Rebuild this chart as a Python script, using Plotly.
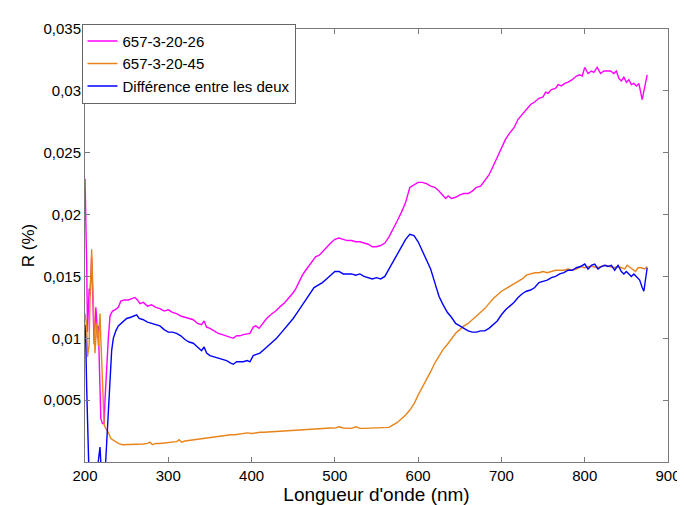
import plotly.graph_objects as go

# ---- data ----
x_a = [200, 201, 202, 203, 204, 205, 206, 207, 208, 209, 210, 211, 212, 213, 214, 215, 216, 217, 218, 219,
       221, 223, 224, 226, 228, 230, 233, 236, 240, 243, 247, 252, 256, 260, 263, 266, 270, 275, 280, 285,
       290, 295, 300, 305, 310, 315, 320, 325, 330, 335, 340, 343, 346, 350, 355, 360, 365, 370, 375, 378,
       382, 386, 390, 395, 398, 402, 405, 409, 413, 418, 423, 429, 435, 440, 445, 449, 453, 457, 461, 465,
       470, 474, 477, 481, 485, 490, 495, 500, 505, 510, 515, 520, 525, 530, 535, 540, 545, 550, 555, 560,
       565, 570, 575, 580, 585, 590, 595, 600, 605, 610, 615, 620, 625, 630, 633, 636, 640, 645, 650, 655,
       660, 665, 670, 675, 680, 685, 690, 695, 700, 705, 710, 715, 720, 725, 730, 735, 740, 745, 750, 753,
       756, 760, 765, 768, 772, 776, 780, 785, 790, 794, 797, 800, 804, 808, 811, 815, 819, 823, 827, 831,
       835, 838, 841, 844, 847, 850, 853, 856, 859, 862, 865, 869, 872, 875]
r_a = [0.0229, 0.0200, 0.0160, 0.0105, 0.0120, 0.0140, 0.0135, 0.0155, 0.0165, 0.0140, 0.0110, 0.0095, 0.0110,
       0.0125, 0.0115, 0.0100, 0.0110, 0.0085, 0.0055, 0.0035, 0.0031, 0.0031, 0.0050, 0.0080, 0.0100, 0.0118,
       0.0122, 0.0123, 0.0125, 0.0130, 0.0131, 0.0131, 0.0132, 0.0133, 0.0131, 0.0128, 0.0129, 0.0126, 0.0127,
       0.0125, 0.0124, 0.0122, 0.0123, 0.0121, 0.0120, 0.0118, 0.0117, 0.0116, 0.0115, 0.0112, 0.0111, 0.0114,
       0.0109, 0.0108, 0.0106, 0.0104, 0.0103, 0.0102, 0.0101, 0.0100, 0.0102, 0.0102, 0.0103, 0.0104, 0.0104,
       0.0109, 0.0110, 0.0108, 0.0112, 0.0116, 0.0119, 0.0122, 0.0126, 0.0129, 0.0133, 0.0136, 0.0140, 0.0146,
       0.0151, 0.0155, 0.0160, 0.0164, 0.0166, 0.0167, 0.0170, 0.0174, 0.0177, 0.0180, 0.0181, 0.0180, 0.0179,
       0.0179, 0.0178, 0.0178, 0.0177, 0.0176, 0.0174, 0.0174, 0.0175, 0.0177, 0.0182, 0.0188, 0.0195, 0.0202,
       0.0210, 0.0222, 0.0224, 0.0226, 0.0226, 0.0225, 0.0223, 0.0222, 0.0219, 0.0215, 0.0213, 0.0215, 0.0213,
       0.0214, 0.0216, 0.0217, 0.0217, 0.0219, 0.0222, 0.0223, 0.0228, 0.0232, 0.0239, 0.0246, 0.0253, 0.0261,
       0.0266, 0.0270, 0.0277, 0.0281, 0.0285, 0.0289, 0.0291, 0.0294, 0.0295, 0.0299, 0.0298, 0.0301, 0.0302,
       0.0305, 0.0304, 0.0306, 0.0307, 0.0309, 0.0312, 0.0313, 0.0312, 0.0319, 0.0314, 0.0316, 0.0315, 0.0319,
       0.0314, 0.0316, 0.0316, 0.0316, 0.0314, 0.0316, 0.0310, 0.0308, 0.0311, 0.0307, 0.0309, 0.0305, 0.0306,
       0.0304, 0.0306, 0.0293, 0.0303, 0.0313]

x_b = [200, 202, 203, 205, 206, 207, 208, 209, 210, 211, 212, 213, 214, 215, 216, 217, 218, 219, 220, 221,
       222, 223, 225, 228, 231, 235, 240, 245, 250, 255, 260, 265, 270, 275, 278, 281, 285, 290, 295, 300,
       305, 310, 313, 316, 320, 325, 330, 335, 340, 345, 350, 355, 360, 365, 370, 375, 380, 385, 390, 395,
       400, 405, 410, 415, 420, 425, 430, 435, 440, 445, 450, 455, 460, 465, 470, 475, 480, 485, 490, 495,
       500, 505, 510, 515, 520, 525, 530, 535, 540, 545, 550, 555, 560, 565, 570, 575, 580, 585, 590, 595,
       600, 605, 610, 615, 620, 625, 630, 635, 640, 645, 650, 655, 660, 665, 670, 675, 680, 685, 690, 695,
       700, 705, 710, 715, 720, 725, 730, 735, 740, 745, 750, 755, 760, 765, 770, 775, 780, 785, 790, 795,
       800, 805, 810, 815, 820, 825, 830, 835, 840, 845, 848, 851, 855, 858, 861, 864, 868, 872, 875]
r_b = [0.0120, 0.0110, 0.0085, 0.0095, 0.0130, 0.0160, 0.0172, 0.0150, 0.0130, 0.0115, 0.0088, 0.0100, 0.0112,
       0.0105, 0.0094, 0.0108, 0.0120, 0.0100, 0.0083, 0.0060, 0.0042, 0.0030, 0.0027, 0.0024, 0.0019, 0.0017,
       0.0015, 0.0014, 0.0014, 0.0014, 0.00145, 0.0014, 0.00145, 0.0015, 0.0016, 0.0014, 0.0015, 0.0015, 0.00155,
       0.0016, 0.0016, 0.00165, 0.0018, 0.0016, 0.0017, 0.00175, 0.0018, 0.00185, 0.0019, 0.0019, 0.00195,
       0.0020, 0.0021, 0.0021, 0.00215, 0.0022, 0.0022, 0.00225, 0.0023, 0.00235, 0.0023, 0.00238, 0.0024,
       0.0024, 0.00242, 0.00245, 0.00248, 0.0025, 0.0025, 0.00255, 0.0026, 0.0026, 0.0026, 0.00265, 0.00268,
       0.0027, 0.0027, 0.0027, 0.00272, 0.00275, 0.00274, 0.00285, 0.00275, 0.00275, 0.00272, 0.00285, 0.00272,
       0.00272, 0.00273, 0.00272, 0.00273, 0.00273, 0.00273, 0.0028, 0.0030, 0.0032, 0.0035, 0.0038, 0.0042,
       0.0047, 0.0054, 0.0060, 0.0066, 0.0073, 0.0080, 0.0086, 0.0091, 0.0095, 0.0100, 0.0104, 0.0107, 0.0110,
       0.0112, 0.0115, 0.0118, 0.0121, 0.0124, 0.0128, 0.0132, 0.0135, 0.0138, 0.0140, 0.0142, 0.0144, 0.0146,
       0.0148, 0.0151, 0.0152, 0.0153, 0.0153, 0.0154, 0.0153, 0.0154, 0.0155, 0.0155, 0.0155, 0.0156, 0.0155,
       0.0156, 0.0158, 0.0157, 0.0158, 0.0158, 0.0157, 0.0158, 0.0159, 0.0158, 0.0157, 0.0158, 0.0157, 0.0156,
       0.0159, 0.0157, 0.0156, 0.0154, 0.0157, 0.0157, 0.0156, 0.0158]

x_d = [200, 201, 202, 203, 204, 206, 210, 213, 215, 217, 218, 219, 220, 222, 224, 226, 228, 230, 232, 234,
       237, 240, 245, 250, 255, 258, 262, 265, 270, 275, 280, 285, 290, 295, 300, 305, 310, 315, 320, 325,
       330, 335, 340, 343, 346, 350, 355, 360, 365, 370, 375, 378, 382, 386, 390, 395, 398, 402, 405, 410,
       415, 420, 425, 430, 435, 440, 445, 450, 455, 460, 465, 470, 475, 480, 485, 490, 495, 500, 505, 510,
       515, 520, 525, 530, 535, 540, 545, 550, 555, 560, 565, 570, 575, 580, 585, 590, 595, 600, 605, 610,
       615, 620, 625, 630, 635, 640, 645, 650, 655, 660, 665, 670, 675, 680, 685, 690, 695, 700, 705, 710,
       715, 720, 725, 730, 735, 740, 745, 750, 755, 760, 765, 770, 775, 780, 785, 790, 795, 800, 804, 808,
       812, 816, 820, 824, 828, 832, 836, 840, 844, 847, 850, 853, 856, 859, 862, 866, 869, 871, 875]
r_d = [0.0111, 0.0095, 0.0060, 0.0020, -0.0010, -0.0040, -0.0050, -0.0030, -0.0005, 0.0008, 0.0012, 0.0000,
       -0.0030, -0.0040, -0.0010, 0.0015, 0.0045, 0.0070, 0.0090, 0.0100, 0.0106, 0.0110, 0.0113, 0.0116, 0.0117,
       0.0118, 0.0119, 0.0116, 0.0115, 0.0113, 0.0112, 0.0111, 0.0110, 0.0107, 0.0105, 0.0105, 0.0104, 0.0102,
       0.0099, 0.0097, 0.0096, 0.0093, 0.0090, 0.0093, 0.0088, 0.0086, 0.0085, 0.0084, 0.0083, 0.0082, 0.0080,
       0.0079, 0.0081, 0.0081, 0.0081, 0.0082, 0.0081, 0.0086, 0.0087, 0.0088, 0.0091, 0.0094, 0.0097, 0.0100,
       0.0104, 0.0108, 0.0112, 0.0116, 0.0121, 0.0126, 0.0131, 0.0136, 0.0141, 0.0143, 0.0145, 0.0148, 0.0151,
       0.0154, 0.0154, 0.0152, 0.0152, 0.0152, 0.0151, 0.0152, 0.0150, 0.0149, 0.0148, 0.0149, 0.0148, 0.0150,
       0.0156, 0.0162, 0.0169, 0.0175, 0.0180, 0.0184, 0.0183, 0.0178, 0.0171, 0.0164, 0.0156, 0.0145, 0.0134,
       0.0127, 0.0121, 0.0117, 0.0112, 0.0110, 0.0108, 0.0106, 0.0105, 0.0105, 0.0106, 0.0106, 0.0108, 0.0111,
       0.0114, 0.0119, 0.0123, 0.0126, 0.0129, 0.0133, 0.0136, 0.0138, 0.0139, 0.0141, 0.0145, 0.0146, 0.0147,
       0.0149, 0.0150, 0.0152, 0.0153, 0.0155, 0.0155, 0.0157, 0.0158, 0.0160, 0.0156, 0.0159, 0.0160, 0.0156,
       0.0158, 0.0159, 0.0158, 0.0159, 0.0155, 0.0159, 0.0154, 0.0152, 0.0154, 0.0152, 0.0150, 0.0152, 0.0150,
       0.0147, 0.0141, 0.0138, 0.0157]

series_names = ["657-3-20-26", "657-3-20-45", "Différence entre les deux"]
series_colors = ["#ff00ff", "#e8841a", "#0000ff"]

x_ticks = [200, 300, 400, 500, 600, 700, 800, 900]
y_ticks = [0.005, 0.01, 0.015, 0.02, 0.025, 0.03, 0.035]
y_tick_labels = ["0,005", "0,01", "0,015", "0,02", "0,025", "0,03", "0,035"]

FONT = "Liberation Sans, Arial, sans-serif"
AXC = "#7a7a7a"

fig = go.Figure()
for xs, ys, name, col in zip([x_a, x_b, x_d], [r_a, r_b, r_d], series_names, series_colors):
    fig.add_trace(go.Scatter(x=xs, y=ys, mode="lines", name=name,
                             line=dict(color=col, width=1.4)))

fig.update_layout(
    width=685, height=505,
    margin=dict(l=77, r=19, t=19, b=43, pad=0),
    paper_bgcolor="white", plot_bgcolor="white",
    font=dict(family=FONT, size=15, color="black"),
    showlegend=True,
    legend=dict(x=-0.006, y=1.012, xanchor="left", yanchor="top",
                bgcolor="white", bordercolor="#666", borderwidth=1,
                font=dict(family=FONT, size=15, color="black"),
                itemwidth=30, tracegroupgap=0),
    xaxis=dict(range=[200, 900], tickvals=x_ticks, ticks="inside", ticklen=5,
               tickcolor=AXC, showline=True, linecolor=AXC, linewidth=1, mirror="ticks",
               showgrid=False, zeroline=False,
               tickfont=dict(family=FONT, size=15, color="black"),
               title=dict(text="Longueur d'onde (nm)", standoff=4,
                          font=dict(family=FONT, size=19, color="black"))),
    yaxis=dict(range=[0, 0.035], tickvals=y_ticks, ticktext=y_tick_labels,
               ticks="inside", ticklen=5,
               tickcolor=AXC, showline=True, linecolor=AXC, linewidth=1, mirror="ticks",
               showgrid=False, zeroline=False,
               tickfont=dict(family=FONT, size=15, color="black"),
               title=dict(text="R (%)", standoff=4,
                          font=dict(family=FONT, size=17, color="black"))),
)

fig.write_html("out.html")
